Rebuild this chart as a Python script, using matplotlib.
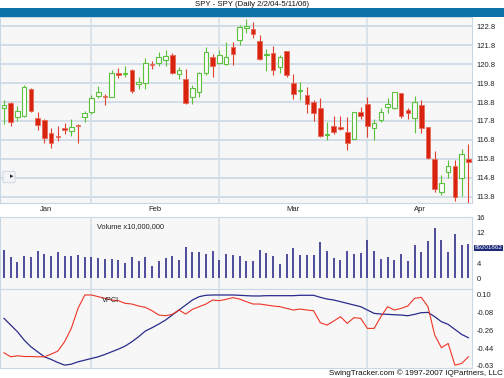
import matplotlib
matplotlib.use("Agg")
import matplotlib.pyplot as plt
from matplotlib.patches import FancyBboxPatch, Rectangle

plt.rcParams["font.family"] = ["Liberation Sans", "DejaVu Sans"]

# daily candles (open, high, low, close)
opens = [118.47, 118.73, 118.03, 118.08, 119.49, 117.94, 117.85, 117.15, 116.98, 117.41,
         117.27, 117.57, 118.03, 118.29, 119.12, 119.12, 119.08, 120.32, 120.28, 120.49,
         119.75, 119.79, 120.80, 120.85, 121.02, 121.28, 120.28, 120.00, 119.05, 119.31,
         120.35, 121.19, 120.85, 120.81, 121.69, 122.08, 122.69, 122.66, 122.02, 121.28,
         121.37, 120.67, 121.50, 119.82, 119.39, 119.17, 118.82, 118.47, 117.05, 117.53,
         117.48, 117.22, 116.83, 118.27, 118.70, 117.41, 117.85, 118.52, 118.47, 119.26,
         118.38, 117.97, 118.64, 117.50, 115.77, 114.06, 115.09, 115.42, 114.80, 115.77]
highs = [118.91, 118.82, 118.59, 119.70, 119.56, 118.26, 117.89, 117.41, 117.53, 117.68,
         117.89, 117.62, 118.34, 119.17, 119.65, 119.22, 120.49, 120.58, 120.72, 120.54,
         120.11, 121.11, 120.97, 121.46, 121.55, 121.37, 120.67, 120.53, 119.70, 120.40,
         121.72, 121.32, 121.55, 121.99, 121.95, 122.87, 123.20, 123.04, 122.34, 121.58,
         121.76, 121.28, 121.50, 120.26, 119.87, 119.61, 118.91, 119.00, 117.76, 118.06,
         118.05, 118.00, 118.27, 118.54, 119.08, 117.89, 118.47, 119.00, 119.35, 119.26,
         118.47, 119.13, 118.91, 117.50, 116.23, 114.94, 115.74, 115.74, 116.30, 116.57]
lows = [117.66, 117.55, 117.81, 117.99, 118.26, 117.32, 116.65, 116.39, 116.76, 117.11,
        117.01, 116.65, 117.76, 118.17, 119.00, 118.64, 119.05, 120.05, 120.14, 119.29,
        119.49, 119.49, 120.54, 120.70, 120.70, 120.28, 120.00, 118.68, 118.68, 119.05,
        120.23, 120.11, 120.81, 120.76, 120.76, 121.81, 122.43, 122.17, 121.02, 120.45,
        120.23, 120.35, 120.14, 118.96, 118.91, 118.20, 117.81, 116.97, 116.80, 117.13,
        117.34, 116.28, 116.83, 117.92, 116.97, 116.80, 117.76, 118.24, 118.42, 117.98,
        117.89, 117.15, 117.18, 115.77, 114.06, 113.89, 114.77, 113.59, 113.86, 113.30]
closes = [118.64, 117.76, 118.34, 119.58, 118.34, 117.59, 116.88, 116.62, 116.95, 117.32,
          117.50, 117.53, 118.24, 119.00, 119.35, 119.05, 120.32, 120.23, 120.31, 119.40,
          119.87, 120.85, 120.78, 121.19, 121.25, 120.35, 120.49, 118.73, 119.52, 120.32,
          121.46, 120.70, 121.28, 121.19, 121.32, 122.78, 122.83, 122.39, 121.06, 121.30,
          120.49, 121.19, 120.23, 119.22, 119.42, 118.70, 118.20, 117.01, 117.08, 117.22,
          117.39, 116.64, 118.27, 118.06, 117.53, 117.71, 118.26, 118.70, 119.31, 118.08,
          118.20, 118.79, 117.41, 115.83, 114.19, 114.51, 115.44, 113.80, 116.05, 115.65]

# volume in units of 10,000,000
volume = [7.35, 5.6, 4.3, 5.8, 5.45, 7.2, 6.3, 5.9, 6.75, 5.8,
          5.8, 6.05, 5.45, 5.45, 5.35, 5.0, 5.0, 4.75, 3.9, 5.6,
          4.6, 5.45, 3.3, 4.5, 5.35, 5.9, 4.9, 8.05, 6.9, 6.9,
          6.3, 7.1, 4.75, 6.3, 6.2, 5.8, 4.5, 4.6, 7.35, 6.65,
          5.9, 3.7, 6.3, 7.8, 6.2, 6.2, 6.2, 9.35, 7.2, 5.35,
          4.75, 7.2, 6.3, 6.65, 9.95, 7.2, 5.0, 5.45, 4.75, 6.3,
          4.6, 8.65, 6.75, 9.85, 13.1, 9.95, 6.9, 11.5, 8.65, 8.9]
last_volume_label = "89201862"

vpci_red = [-0.488, -0.529, -0.519, -0.526, -0.526, -0.529, -0.529, -0.502, -0.471, -0.376,
            -0.240, -0.036, 0.100, 0.100, 0.083, 0.066, 0.049, 0.042, 0.015, 0.008,
            -0.012, -0.026, -0.060, -0.104, -0.111, -0.097, -0.053, -0.094, -0.046, -0.019,
            0.008, 0.049, 0.042, 0.056, 0.073, 0.059, 0.032, 0.008, 0.008, -0.002,
            -0.012, -0.019, -0.036, -0.053, -0.043, -0.053, -0.060, -0.182, -0.206, -0.165,
            -0.121, -0.189, -0.131, -0.138, -0.240, -0.240, -0.121, -0.019, -0.053, -0.036,
            -0.012, 0.066, 0.076, -0.019, -0.308, -0.437, -0.393, -0.614, -0.597, -0.529]
vpci_blue = [-0.138, -0.206, -0.274, -0.359, -0.427, -0.478, -0.529, -0.556, -0.587, -0.614,
             -0.604, -0.580, -0.563, -0.546, -0.529, -0.505, -0.478, -0.451, -0.420, -0.376,
             -0.325, -0.267, -0.233, -0.196, -0.155, -0.104, -0.053, -0.002, 0.049, 0.083,
             0.097, 0.100, 0.100, 0.100, 0.100, 0.097, 0.093, 0.090, 0.090, 0.093,
             0.093, 0.093, 0.093, 0.093, 0.097, 0.097, 0.097, 0.076, 0.059, 0.049,
             0.032, 0.015, -0.002, -0.019, -0.053, -0.087, -0.094, -0.097, -0.101, -0.104,
             -0.111, -0.097, -0.080, -0.077, -0.121, -0.172, -0.199, -0.250, -0.301, -0.335]

month_names = ["Jan", "Feb", "Mar", "Apr"]
month_starts = [13, 32, 54]

price_ticks = [122.8, 121.8, 120.8, 119.8, 118.8, 117.8, 116.8, 115.8, 114.8, 113.8]
vol_ticks = [0, 4, 12, 16]
vpci_ticks = [0.10, -0.08, -0.26, -0.44, -0.62]
vpci_labels = ["0.10", "-0.08", "-0.26", "-0.44", "-0.63"]

W, H = 504, 378
GREEN = "#5cc23e"
RED = "#d8240f"
GRID = "#d3dde7"
BG = "#f7f7f7"
n = len(closes)
xlim = (-0.594, n - 0.46)


def rect(x0, y0, x1, y1):
    return [x0 / W, 1 - y1 / H, (x1 - x0) / W, (y1 - y0) / H]


def style(ax):
    ax.set_facecolor(BG)
    ax.set_xlim(*xlim)
    ax.yaxis.tick_right()
    ax.tick_params(axis="y", length=0, pad=3.5, labelsize=5.5, colors="#222222")
    ax.tick_params(axis="x", length=0)
    for s in ax.spines.values():
        s.set_color("#c9d7e4")
        s.set_linewidth(0.8)
    for m in month_starts:
        ax.axvline(m, color=GRID, lw=1.1, zorder=0.5)


fig = plt.figure(figsize=(W / 100, H / 100), dpi=100)
fig.patch.set_facecolor("white")

# title and blue band
fig.text(0.5, 1 - 5 / H, "SPY - SPY (Daily 2/2/04-5/11/06)", ha="center", va="center",
         fontsize=5.6, color="#111111")
fig.patches.append(Rectangle((0, 1 - 17 / H), 1, 9 / H, transform=fig.transFigure,
                             facecolor="#0d72a8", edgecolor="none"))

# price panel
ax1 = fig.add_axes(rect(0, 17, 472, 203))
style(ax1)
ax1.set_ylim(113.47, 123.29)
ax1.set_yticks(price_ticks)
ax1.set_yticklabels([f"{t:.1f}" for t in price_ticks])
for t in price_ticks:
    ax1.axhline(t, color=GRID, lw=1.4, zorder=0.5)
for i in range(n):
    up = closes[i] >= opens[i]
    col = GREEN if up else RED
    ax1.vlines(i, lows[i], highs[i], color=col if up else "#e2402e", lw=0.8, zorder=2)
    lo, hi = min(opens[i], closes[i]), max(opens[i], closes[i])
    h = max(hi - lo, 0.05)
    if up:
        ax1.bar(i, h, bottom=lo, width=0.68, facecolor="#fbfbfb", edgecolor=GREEN,
                linewidth=0.8, zorder=3)
    else:
        ax1.bar(i, h, bottom=lo, width=0.68, facecolor=RED, edgecolor="#e86a5a",
                linewidth=0.6, zorder=3)

bounds = [xlim[0]] + month_starts + [xlim[1]]
centers = [(bounds[k] + bounds[k + 1]) / 2 for k in range(len(month_names))]
ax1.set_xticks(centers)
ax1.set_xticklabels(month_names, fontsize=5.5, color="#222222")
ax1.tick_params(axis="x", pad=2.5)

icon = FancyBboxPatch((4 / W, 1 - 182 / H), 10 / W, 10 / H, boxstyle="round,pad=0.002",
                      transform=fig.transFigure, facecolor="#f2f4f7", edgecolor="#c8d2dc", lw=0.6)
fig.patches.append(icon)
fig.text(11.5 / W, 1 - 177 / H, "\u25B8", fontsize=5, ha="center", va="center", color="#222222")

# volume panel
ax2 = fig.add_axes(rect(0, 217, 472, 289))
style(ax2)
ax2.set_ylim(-2.78, 15.92)
ax2.set_yticks(vol_ticks)
ax2.set_yticklabels([str(t) for t in vol_ticks])
ax2.set_xticks([])
ax2.vlines(range(n), 0, volume, color="#3f3f93", lw=1.3, zorder=2)
ax2.text(0.205, 0.87, "Volume x10,000,000", transform=ax2.transAxes, fontsize=5.3,
         color="#222222", va="center")
ax2.annotate(last_volume_label, xy=(1, volume[-1]), xycoords=("axes fraction", "data"),
             xytext=(2.0, -2.5), textcoords="offset points", va="center", ha="left",
             fontsize=4.5, color="white", annotation_clip=False,
             bbox=dict(boxstyle="square,pad=0.1", fc="#1d2a78", ec="none"))

# VPCI panel
ax3 = fig.add_axes(rect(0, 289, 472, 368))
style(ax3)
ax3.set_ylim(-0.643, 0.161)
ax3.set_yticks(vpci_ticks)
ax3.set_yticklabels(vpci_labels)
ax3.set_xticks([])
ax3.plot(range(n), vpci_red, color="#ee3526", lw=0.8, zorder=3)
ax3.plot(range(n), vpci_blue, color="#2b2b8c", lw=0.9, zorder=2)
ax3.text(0.215, 0.86, "VPCI", transform=ax3.transAxes, fontsize=5.3, color="#222222",
         va="center")

fig.text(1 - 1 / W, 1 - 373 / H, "SwingTracker.com \u00a9 1997-2007 IQPartners, LLC",
         ha="right", va="center", fontsize=5.8, color="#111111")

fig.savefig("out.png", dpi=100)
